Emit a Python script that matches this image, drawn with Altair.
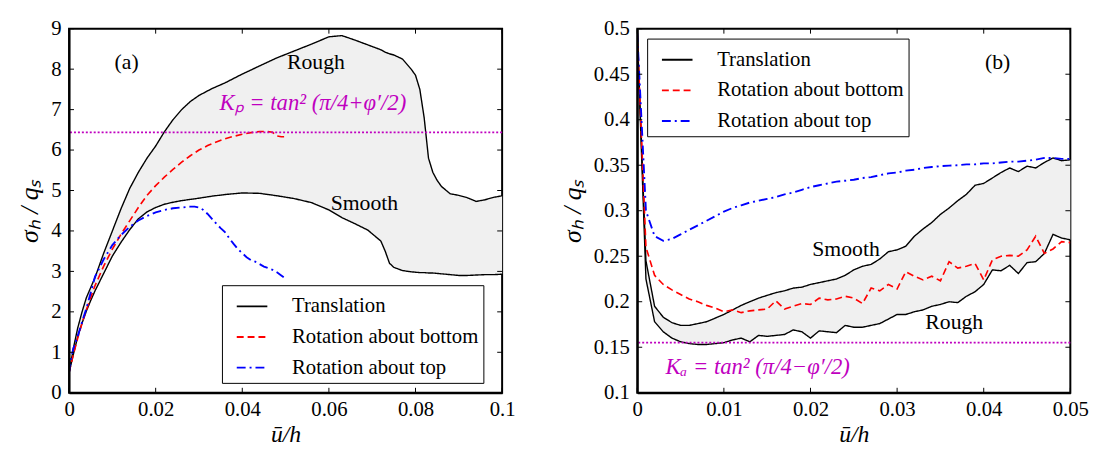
import altair as alt
import pandas as pd

FONT = "Liberation Serif"
W, H = 439, 369

# ---------------- Panel (a) data ----------------
a_band_x = [0, 0.001, 0.002, 0.003, 0.004, 0.005, 0.006, 0.008, 0.010, 0.012, 0.014, 0.016,
            0.018, 0.020, 0.022, 0.024, 0.026, 0.028, 0.030, 0.033, 0.036, 0.040, 0.044,
            0.048, 0.052, 0.056, 0.060, 0.063, 0.066, 0.069, 0.072, 0.073, 0.074, 0.075,
            0.077, 0.079, 0.080, 0.081, 0.082, 0.083, 0.084, 0.085, 0.086, 0.088, 0.090,
            0.092, 0.094, 0.096, 0.098, 0.100]
a_rough = [0.5, 1.1, 1.6, 2.0, 2.35, 2.6, 2.85, 3.45, 4.0, 4.55, 5.05, 5.45,
           5.8, 6.1, 6.45, 6.75, 7.0, 7.2, 7.35, 7.52, 7.66, 7.88, 8.08,
           8.28, 8.45, 8.62, 8.8, 8.83, 8.72, 8.6, 8.48, 8.42, 8.38, 8.35,
           8.25, 8.0, 7.85, 7.5, 6.8, 5.8, 5.45, 5.25, 5.1, 4.92, 4.88,
           4.82, 4.73, 4.77, 4.83, 4.87]
a_smooth = [0.5, 0.95, 1.38, 1.72, 2.02, 2.28, 2.52, 2.95, 3.38, 3.72, 4.03, 4.3,
            4.47, 4.58, 4.66, 4.71, 4.75, 4.78, 4.81, 4.86, 4.9, 4.94, 4.93,
            4.87, 4.8, 4.7, 4.52, 4.33, 4.18, 4.02, 3.75, 3.5, 3.2, 3.1,
            3.02, 2.99, 2.98, 2.97, 2.97, 2.96, 2.96, 2.95, 2.94, 2.92, 2.9,
            2.9, 2.91, 2.92, 2.92, 2.93]
a_bottom_x = [0, 0.001, 0.002, 0.003, 0.004, 0.006, 0.008, 0.010, 0.012, 0.014, 0.016, 0.018,
              0.020, 0.022, 0.024, 0.026, 0.028, 0.030, 0.032, 0.034, 0.036, 0.038, 0.040,
              0.042, 0.044, 0.0455, 0.047, 0.048, 0.049, 0.050]
a_bottom_y = [0.5, 0.95, 1.35, 1.72, 2.05, 2.65, 3.13, 3.55, 3.92, 4.25, 4.58, 4.88,
              5.12, 5.33, 5.52, 5.7, 5.86, 6.0, 6.11, 6.2, 6.28, 6.34, 6.39,
              6.43, 6.46, 6.46, 6.44, 6.35, 6.33, 6.33]
a_top_x = [0, 0.0005, 0.001, 0.002, 0.003, 0.004, 0.006, 0.008, 0.010, 0.012, 0.014, 0.016,
           0.018, 0.020, 0.022, 0.024, 0.026, 0.028, 0.029, 0.030, 0.031, 0.032, 0.033,
           0.034, 0.035, 0.036, 0.037, 0.038, 0.039, 0.040, 0.041, 0.042, 0.043, 0.044,
           0.045, 0.046, 0.047, 0.048, 0.049, 0.050]
a_top_y = [0.5, 0.85, 1.1, 1.4, 1.75, 2.08, 2.87, 3.3, 3.65, 3.9, 4.1, 4.26,
           4.37, 4.46, 4.52, 4.56, 4.58, 4.6, 4.6, 4.58, 4.52, 4.42, 4.3,
           4.18, 4.07, 3.97, 3.82, 3.68, 3.55, 3.45, 3.35, 3.28, 3.24, 3.18,
           3.12, 3.08, 3.04, 2.98, 2.9, 2.82]
a_kp = 6.44
a_xticks = [0, 0.02, 0.04, 0.06, 0.08, 0.1]
a_yticks = [0, 1, 2, 3, 4, 5, 6, 7, 8, 9]
a_labels = ["(a)", "Rough", "Smooth"]
a_label_x = [0.0133, 0.057, 0.0682]
a_label_y = [8.17, 8.18, 4.68]
a_formula = ["Kₚ = tan² (π/4+φ′/2)"]
a_formula_x = [0.0563]
a_formula_y = [7.15]

# ---------------- Panel (b) data ----------------
b_x = [0, 0.001, 0.002, 0.003, 0.004, 0.005, 0.006, 0.007, 0.008, 0.009, 0.010,
       0.011, 0.012, 0.013, 0.014, 0.015, 0.016, 0.017, 0.018, 0.019, 0.020,
       0.021, 0.022, 0.023, 0.024, 0.025, 0.026, 0.027, 0.028, 0.029, 0.030,
       0.031, 0.032, 0.033, 0.034, 0.035, 0.036, 0.037, 0.038, 0.039, 0.040,
       0.041, 0.042, 0.043, 0.044, 0.045, 0.046, 0.047, 0.048, 0.049, 0.050]
b_smooth = [0.495, 0.245, 0.195, 0.183, 0.177, 0.174, 0.174, 0.176, 0.178, 0.182, 0.186,
            0.191, 0.196, 0.200, 0.204, 0.207, 0.210, 0.212, 0.215, 0.216, 0.219,
            0.221, 0.223, 0.225, 0.229, 0.235, 0.239, 0.241, 0.247, 0.255, 0.257,
            0.261, 0.272, 0.280, 0.287, 0.296, 0.303, 0.311, 0.318, 0.328, 0.330,
            0.336, 0.342, 0.347, 0.343, 0.349, 0.347, 0.353, 0.358, 0.355, 0.356]
b_rough = [0.495, 0.225, 0.178, 0.167, 0.160, 0.156, 0.154, 0.153, 0.153, 0.154, 0.155,
           0.158, 0.160, 0.156, 0.163, 0.162, 0.163, 0.164, 0.169, 0.167, 0.160,
           0.168, 0.167, 0.166, 0.174, 0.172, 0.172, 0.174, 0.176, 0.181, 0.186,
           0.186, 0.189, 0.191, 0.195, 0.197, 0.200, 0.199, 0.206, 0.211, 0.219,
           0.235, 0.234, 0.240, 0.231, 0.243, 0.244, 0.253, 0.274, 0.270, 0.268]
b_bottom = [0.495, 0.260, 0.229, 0.219, 0.213, 0.208, 0.203, 0.200, 0.196, 0.193, 0.189,
            0.191, 0.188, 0.190, 0.191, 0.192, 0.201, 0.192, 0.195, 0.198, 0.197,
            0.204, 0.202, 0.203, 0.206, 0.204, 0.198, 0.215, 0.212, 0.219, 0.214,
            0.233, 0.228, 0.224, 0.228, 0.223, 0.244, 0.237, 0.239, 0.242, 0.224,
            0.246, 0.250, 0.251, 0.250, 0.257, 0.272, 0.253, 0.258, 0.266, 0.265]
b_top = [0.495, 0.300, 0.272, 0.267, 0.269, 0.274, 0.279, 0.284, 0.289, 0.294, 0.299,
         0.303, 0.306, 0.309, 0.311, 0.313, 0.315, 0.318, 0.320, 0.323, 0.326,
         0.328, 0.330, 0.332, 0.333, 0.334, 0.336, 0.337, 0.339, 0.341, 0.342,
         0.344, 0.345, 0.347, 0.348, 0.349, 0.3495, 0.350, 0.351, 0.351, 0.352,
         0.352, 0.353, 0.354, 0.354, 0.355, 0.356, 0.358, 0.358, 0.357, 0.357]
b_ka = 0.155
b_xticks = [0, 0.01, 0.02, 0.03, 0.04, 0.05]
b_yticks = [0.1, 0.15, 0.2, 0.25, 0.3, 0.35, 0.4, 0.45, 0.5]
b_labels = ["(b)", "Smooth", "Rough"]
b_label_x = [0.0416, 0.0241, 0.0366]
b_label_y = [0.463, 0.2577, 0.178]
b_formula = ["Kₐ = tan² (π/4−φ′/2)"]
b_formula_x = [0.0139]
b_formula_y = [0.1285]

SERIES = ["Translation", "Rotation about bottom", "Rotation about top"]
COLORS = ["#000000", "#ff0000", "#0000ff"]
DASHES = [[1, 0], [7, 4], [9, 4, 2, 4]]
WIDTHS = [1.4, 1.9, 1.9]
MAGENTA = "#bf00bf"
BAND = "#f0f0f0"


def long_lines(parts):
    rows = []
    for series, curve, xs, ys in parts:
        for i, (xv, yv) in enumerate(zip(xs, ys)):
            rows.append({"x": xv, "y": yv, "series": series, "curve": curve, "i": i})
    return pd.DataFrame(rows)


def panel(xdom, ydom, xticks, yticks, band_df, lines_df, ref_val, labels_df,
          formula_df, legend_x, legend_y):
    xs = alt.Scale(domain=xdom, nice=False, zero=False)
    ys = alt.Scale(domain=ydom, nice=False, zero=False)

    main_x = alt.Axis(values=xticks, format="~g", orient="bottom", labelFont=FONT,
                      labelFontSize=21, labelColor="black", labelPadding=6,
                      labelFlush=False, tickSize=0, domain=True, domainColor="black",
                      domainWidth=2, grid=False, title="u\u0304/h", titleFont=FONT,
                      titleFontSize=24, titleFontStyle="italic", titleFontWeight="normal",
                      titleColor="black", titlePadding=3, zindex=1)
    main_y = alt.Axis(values=yticks, format="~g", orient="left", labelFont=FONT,
                      labelFontSize=21, labelColor="black", labelPadding=8,
                      labelFlush=False, tickSize=0, domain=True, domainColor="black",
                      domainWidth=2, grid=False, title="σₕ / qₛ", titleFont=FONT,
                      titleFontSize=26, titleFontStyle="italic", titleFontWeight="normal",
                      titleColor="black", titlePadding=8, zindex=1)

    legend = alt.Legend(title=None, orient="none", legendX=legend_x, legendY=legend_y,
                        symbolType="stroke", symbolSize=961, symbolStrokeWidth=1.9,
                        labelFont=FONT, labelFontSize=21, labelColor="black",
                        labelLimit=400, labelOffset=24, rowPadding=4, padding=5,
                        symbolOffset=9, strokeColor="black", fillColor="white")

    area = alt.Chart(band_df).mark_area(color=BAND, opacity=1).encode(
        x=alt.X("x:Q", scale=xs, axis=main_x),
        y=alt.Y("hi:Q", scale=ys, axis=main_y),
        y2="lo:Q",
    )
    lines = alt.Chart(lines_df).mark_line(clip=True).encode(
        x=alt.X("x:Q", scale=xs, axis=None),
        y=alt.Y("y:Q", scale=ys, axis=None),
        color=alt.Color("series:N", scale=alt.Scale(domain=SERIES, range=COLORS),
                        legend=legend),
        strokeDash=alt.StrokeDash("series:N", scale=alt.Scale(domain=SERIES, range=DASHES),
                                  legend=legend),
        strokeWidth=alt.StrokeWidth("series:N", scale=alt.Scale(domain=SERIES, range=WIDTHS),
                                    legend=None),
        detail="curve:N",
        order="i:Q",
    )
    rule = alt.Chart(pd.DataFrame({"k": [ref_val]})).mark_rule(
        color=MAGENTA, strokeDash=[2, 2], strokeWidth=1.8
    ).encode(y=alt.Y("k:Q", scale=ys, axis=None))
    texts = alt.Chart(labels_df).mark_text(
        font=FONT, fontSize=22, color="black", align="center", baseline="middle"
    ).encode(
        x=alt.X("x:Q", scale=xs, axis=None),
        y=alt.Y("y:Q", scale=ys, axis=None),
        text="t:N",
    )
    ftext = alt.Chart(formula_df).mark_text(
        font=FONT, fontSize=23, color=MAGENTA, align="center", baseline="middle",
        fontStyle="italic"
    ).encode(
        x=alt.X("x:Q", scale=xs, axis=None),
        y=alt.Y("y:Q", scale=ys, axis=None),
        text="t:N",
    )
    # inward tick marks on all four sides, positioned by the scales
    xt = pd.DataFrame({"v": xticks})
    yt = pd.DataFrame({"v": yticks})
    tk = dict(color="black", strokeWidth=1)
    t_bottom = alt.Chart(xt).mark_rule(**tk).encode(
        x=alt.X("v:Q", scale=xs, axis=None), y=alt.value(H), y2=alt.value(H - 5))
    t_top = alt.Chart(xt).mark_rule(**tk).encode(
        x=alt.X("v:Q", scale=xs, axis=None), y=alt.value(0), y2=alt.value(5))
    t_left = alt.Chart(yt).mark_rule(**tk).encode(
        y=alt.Y("v:Q", scale=ys, axis=None), x=alt.value(0), x2=alt.value(5))
    t_right = alt.Chart(yt).mark_rule(**tk).encode(
        y=alt.Y("v:Q", scale=ys, axis=None), x=alt.value(W), x2=alt.value(W - 5))
    return alt.layer(area, lines, rule, texts, ftext, t_bottom, t_top, t_left,
                     t_right).resolve_axis(x="independent", y="independent").properties(
        width=W, height=H)


a_band = pd.DataFrame({"x": a_band_x, "hi": a_rough, "lo": a_smooth})
a_lines = long_lines([
    ("Translation", "rough", a_band_x, a_rough),
    ("Translation", "smooth", a_band_x, a_smooth),
    ("Rotation about bottom", "bottom", a_bottom_x, a_bottom_y),
    ("Rotation about top", "top", a_top_x, a_top_y),
])
a_lab = pd.DataFrame({"t": a_labels, "x": a_label_x, "y": a_label_y})
a_form = pd.DataFrame({"t": a_formula, "x": a_formula_x, "y": a_formula_y})

b_band = pd.DataFrame({"x": b_x, "hi": b_smooth, "lo": b_rough})
b_lines = long_lines([
    ("Translation", "smooth", b_x, b_smooth),
    ("Translation", "rough", b_x, b_rough),
    ("Rotation about bottom", "bottom", b_x, b_bottom),
    ("Rotation about top", "top", b_x, b_top),
])
b_lab = pd.DataFrame({"t": b_labels, "x": b_label_x, "y": b_label_y})
b_form = pd.DataFrame({"t": b_formula, "x": b_formula_x, "y": b_formula_y})

left = panel([0, 0.1], [0, 9], a_xticks, a_yticks, a_band, a_lines, a_kp, a_lab, a_form,
             155, 260)
right = panel([0, 0.05], [0.1, 0.5], b_xticks, b_yticks, b_band, b_lines, b_ka, b_lab,
              b_form, 10, 10)

chart = alt.hconcat(left, right, spacing=42).resolve_legend(
    color="independent", strokeDash="independent"
).resolve_scale(color="independent", strokeDash="independent").properties(
    padding={"left": 16, "top": 14, "right": 5, "bottom": 5},
    background="white",
).configure_view(stroke="black", strokeWidth=2)

chart.save("out.html", embed_options={"renderer": "svg", "actions": False})
